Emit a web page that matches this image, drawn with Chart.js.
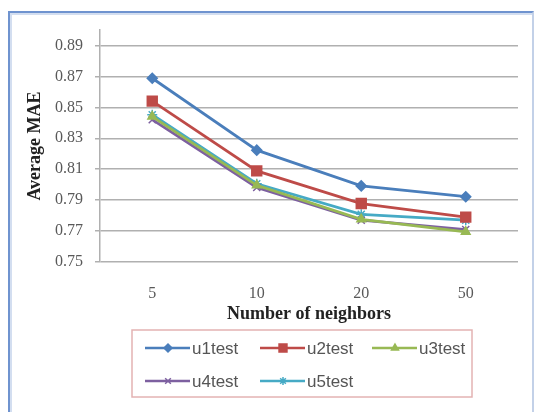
<!DOCTYPE html>
<html>
<head>
<meta charset="utf-8">
<script src="https://cdn.jsdelivr.net/npm/chart.js@4/dist/chart.umd.min.js"></script>
<style>
  html, body { margin: 0; padding: 0; background: #fff; }
  #wrap { position: relative; width: 535px; height: 412px; overflow: hidden; }
  #frame { position: absolute; left: 8px; top: 11px; width: 526px; height: 420px;
           border: 2px solid #6f93cf; border-right: 2px solid #c3d1e8;
           box-shadow: inset 2px 2px 0 0 #d3def0;
           box-sizing: border-box; pointer-events: none; }
  canvas { position: absolute; left: 0; top: 0; }
</style>
</head>
<body>
<div id="wrap">
  <canvas id="maeChart" width="535" height="412"></canvas>
  <div id="frame"></div>
</div>
<script>
const neighbors = ['5', '10', '20', '50'];
const yTicks = [0.75, 0.77, 0.79, 0.81, 0.83, 0.85, 0.87, 0.89];

const u1test = [0.8688, 0.8223, 0.7992, 0.7922];
const u2test = [0.8540, 0.8089, 0.7878, 0.7790];
const u3test = [0.8440, 0.7996, 0.7776, 0.7695];
const u4test = [0.8420, 0.7982, 0.7770, 0.7710];
const u5test = [0.8452, 0.8006, 0.7808, 0.7770];

const series = [
  { label: 'u1test', data: u1test, color: '#4a7ebb', style: 'rectRot', radius: 5 },
  { label: 'u2test', data: u2test, color: '#be4b48', style: 'rect', radius: 7 },
  { label: 'u3test', data: u3test, color: '#98b954', style: 'triangle', radius: 5 },
  { label: 'u4test', data: u4test, color: '#7d60a0', style: 'crossRot', radius: 5 },
  { label: 'u5test', data: u5test, color: '#46aac5', style: 'star', radius: 5 },
];

// Excel style boxed legend, two rows, left aligned
const boxLegend = {
  id: 'boxLegend',
  afterDraw(chart) {
    const ctx = chart.ctx;
    const cols = [145, 260, 372];
    const rows = [348, 381];
    ctx.save();
    ctx.strokeStyle = '#e3b3b3';
    ctx.lineWidth = 1.5;
    ctx.strokeRect(132, 330, 340, 67);
    ctx.font = '17px "Liberation Sans", Arial, sans-serif';
    ctx.textBaseline = 'middle';
    ctx.textAlign = 'left';
    chart.data.datasets.forEach((ds, i) => {
      const x = cols[i % 3];
      const y = rows[Math.floor(i / 3)];
      ctx.strokeStyle = ds.borderColor;
      ctx.fillStyle = ds.borderColor;
      ctx.lineWidth = 2.5;
      ctx.beginPath();
      ctx.moveTo(x, y);
      ctx.lineTo(x + 45, y);
      ctx.stroke();
      ctx.lineWidth = 1.5;
      Chart.helpers.drawPoint(ctx, {
        pointStyle: ds.pointStyle,
        radius: ds.pointRadius * 0.8,
        rotation: 0,
        borderWidth: 1.5
      }, x + 23, y);
      ctx.fillStyle = '#555';
      ctx.fillText(ds.label, x + 47, y + 1);
    });
    ctx.restore();
  }
};

new Chart(document.getElementById('maeChart'), {
  type: 'line',
  data: {
    labels: neighbors,
    datasets: series.map(s => ({
      label: s.label,
      data: s.data,
      borderColor: s.color,
      backgroundColor: s.color,
      borderWidth: 2.75,
      pointStyle: s.style,
      pointRadius: s.radius,
      pointBorderWidth: 1.5,
      pointHoverRadius: s.radius,
      tension: 0,
      fill: false
    }))
  },
  options: {
    responsive: false,
    animation: false,
    layout: { padding: { left: 0, right: 17, top: 30, bottom: 87 } },
    plugins: {
      legend: { display: false },
      tooltip: { enabled: false }
    },
    scales: {
      x: {
        type: 'category',
        offset: true,
        grid: { display: false, drawTicks: false },
        border: { display: false },
        ticks: {
          padding: 22,
          color: '#595959',
          font: { family: '"Liberation Serif", "Times New Roman", serif', size: 16 }
        },
        title: {
          display: true,
          text: 'Number of neighbors',
          color: '#222',
          padding: 0,
          font: { family: '"Liberation Serif", "Times New Roman", serif', size: 18, weight: 'bold', lineHeight: 1.2 }
        },
        afterFit: axis => { axis.height = 63; }
      },
      y: {
        min: 0.75,
        max: 0.90,
        afterBuildTicks: axis => { axis.ticks = yTicks.map(v => ({ value: v })); },
        grid: { color: '#b0b0b0', lineWidth: 1.5, tickLength: 5 },
        border: { display: true, color: '#b0b0b0', width: 1.5 },
        ticks: {
          padding: 12,
          color: '#595959',
          font: { family: '"Liberation Serif", "Times New Roman", serif', size: 16 },
          callback: v => v.toFixed(2)
        },
        title: {
          display: true,
          text: 'Average MAE',
          color: '#222',
          padding: { top: 25, bottom: 0 },
          font: { family: '"Liberation Serif", "Times New Roman", serif', size: 18, weight: 'bold', lineHeight: 1.2 }
        },
        afterFit: axis => { axis.width = 100; }
      }
    }
  },
  plugins: [boxLegend]
});
</script>
</body>
</html>
